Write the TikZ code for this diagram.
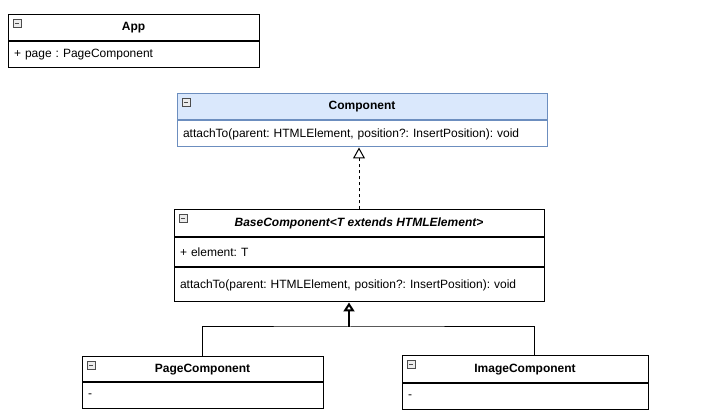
\documentclass[tikz,border=0pt]{standalone}
\usepackage{fontspec}
\setmainfont{Liberation Sans}
\usetikzlibrary{arrows.meta, positioning}
\frenchspacing

\definecolor{headblue}{HTML}{DAE8FC}
\definecolor{edgeblue}{HTML}{6C8EBF}

\tikzset{
	umlhead/.style={draw, line width=1pt, minimum width=#1, minimum height=26pt, inner sep=0pt, font=\fontsize{12}{14}\selectfont\bfseries},
	umlbody/.style={draw, line width=1pt, text width=#1, inner xsep=6pt, inner ysep=0pt, align=left, minimum height=26pt, font=\fontsize{12}{14}\selectfont},
	minusbox/.style={draw=gray!60!black, fill=gray!15, line width=0.6pt, minimum size=8pt, inner sep=0pt,
		path picture={\draw[line width=0.8pt] ([xshift=2pt]path picture bounding box.west) -- ([xshift=-2pt]path picture bounding box.east);}},
	realize/.style={dashed, dash pattern=on 3pt off 3pt, line width=1pt, -{Triangle[open, width=12pt, length=11pt]}},
	inherit/.style={line width=2pt, -{Triangle[open, width=11pt, length=9pt]}}
}

\begin{document}
\begin{tikzpicture}[x=1pt, y=-1pt]
	\useasboundingbox (0,0) rectangle (705,419);

	% App
	\node[umlhead=251pt] (app) at (133.5,27.5) {App};
	\node[umlbody=239pt, below=0pt of app] (appbody) {+ page : PageComponent};
	\node[minusbox, anchor=north west] (appicon) at ([shift={(5pt,-5pt)}]app.north west) {};

	% Component
	\node[umlhead=370pt, fill=headblue, draw=edgeblue] (comp) at (362,107) {Component};
	\node[umlbody=358pt, draw=edgeblue, below=0pt of comp] (compbody) {attachTo(parent: HTMLElement, position?: InsertPosition): void};
	\node[minusbox, anchor=north west] (compicon) at ([shift={(5pt,-5pt)}]comp.north west) {};

	% BaseComponent
	\node[umlhead=370pt, minimum height=27pt, font=\fontsize{12}{14}\selectfont\bfseries\itshape] (base) at (359,223.5) {BaseComponent<T extends HTMLElement>};
	\node[umlbody=358pt, minimum height=29pt, below=0pt of base] (baseattr) {+ element: T};
	\node[umlbody=358pt, minimum height=34pt, below=0pt of baseattr] (basemeth) {attachTo(parent: HTMLElement, position?: InsertPosition): void};
	\node[minusbox, anchor=north west] (baseicon) at ([shift={(5pt,-5pt)}]base.north west) {};

	% PageComponent
	\node[umlhead=241pt, minimum height=25pt] (page) at (202.5,369.5) {PageComponent};
	\node[umlbody=229pt, below=0pt of page] (pagebody) {-};
	\node[minusbox, anchor=north west] (pageicon) at ([shift={(5pt,-5pt)}]page.north west) {};

	% ImageComponent
	\node[umlhead=246pt, minimum height=27pt] (image) at (525,369.5) {ImageComponent};
	\node[umlbody=234pt, below=0pt of image] (imagebody) {-};
	\node[minusbox, anchor=north west] (imageicon) at ([shift={(5pt,-5pt)}]image.north west) {};

	% connectors
	\draw[realize] (base.north) -- (base.north |- compbody.south);

	\coordinate (join) at (349,327);
	\draw[line width=1pt] (page.north -| 202,0) |- (join) -| (image.north -| 534,0);
	\draw[inherit] (join) -- (join |- basemeth.south);
\end{tikzpicture}
\end{document}
